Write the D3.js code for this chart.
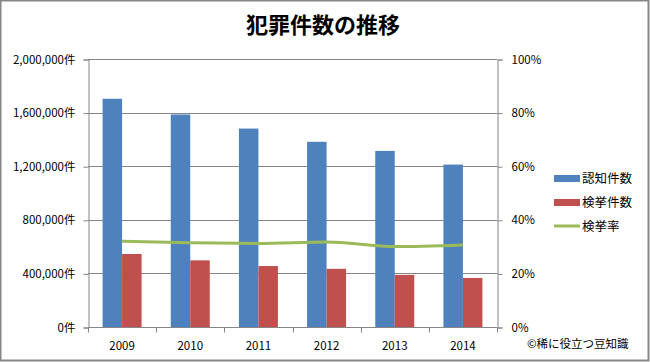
<!DOCTYPE html>
<html>
<head>
<meta charset="utf-8">
<script src="https://cdn.jsdelivr.net/npm/d3@7"></script>
<style>
  body { margin: 0; background: #fff; }
  text { font-family: "Noto Sans CJK JP", "DejaVu Sans", sans-serif; fill: #000; }
</style>
</head>
<body>
<div id="chart"></div>
<script>
var years = ["2009", "2010", "2011", "2012", "2013", "2014"];
var ninchi = [1703044, 1585856, 1480760, 1382154, 1314140, 1212163];
var kenkyo = [545016, 497356, 455000, 434000, 389000, 366000];
var rate = [0.320, 0.314, 0.312, 0.317, 0.300, 0.306];
var leftTicks = [0, 400000, 800000, 1200000, 1600000, 2000000];
var rightTicks = [0, 0.2, 0.4, 0.6, 0.8, 1.0];
var seriesNames = ["認知件数", "検挙件数", "検挙率"];
var colors = ["#4f81bd", "#c0504d", "#9bbb59"];

var W = 650, H = 362;
var plot = { left: 88, right: 497, top: 59, bottom: 327 };

var svg = d3.select("#chart").append("svg")
  .attr("width", W).attr("height", H);

// outer border
svg.append("rect")
  .attr("x", 0.5).attr("y", 0.5)
  .attr("width", W - 2).attr("height", H - 2)
  .attr("fill", "#fff").attr("stroke", "#868686").attr("stroke-width", 2);

svg.append("text")
  .attr("x", 323).attr("y", 33)
  .attr("text-anchor", "middle")
  .attr("font-size", 22).attr("font-weight", "bold")
  .text("犯罪件数の推移");

var x = d3.scaleBand().domain(years).range([plot.left, plot.right]);
var y = d3.scaleLinear().domain([0, 2000000]).range([plot.bottom, plot.top]);
var y2 = d3.scaleLinear().domain([0, 1]).range([plot.bottom, plot.top]);

// gridlines
svg.append("g").selectAll("line").data(leftTicks.slice(1)).join("line")
  .attr("x1", plot.left).attr("x2", plot.right)
  .attr("y1", d => Math.round(y(d)) + 0.5).attr("y2", d => Math.round(y(d)) + 0.5)
  .attr("stroke", "#868686");

// left axis
var fmt = d3.format(",");
var la = svg.append("g")
  .attr("transform", "translate(" + (plot.left + 0.5) + ",0.5)")
  .call(d3.axisLeft(y).tickValues(leftTicks).tickFormat(d => fmt(d) + "件").tickSize(5).tickPadding(8));
la.selectAll(".tick line, .domain").attr("stroke", "#868686");
la.selectAll("text").attr("font-size", 11.5).attr("fill", "#000");

// right axis
var ra = svg.append("g")
  .attr("transform", "translate(" + (plot.right + 0.5) + ",0.5)")
  .call(d3.axisRight(y2).tickValues(rightTicks).tickFormat(d3.format(".0%")).tickSize(5).tickPadding(9));
ra.selectAll(".tick line, .domain").attr("stroke", "#868686");
ra.selectAll("text").attr("font-size", 11.5).attr("fill", "#000");

// bars
var bw = 19.5;
svg.append("g").selectAll("rect").data(ninchi).join("rect")
  .attr("x", (d, i) => x(years[i]) + x.bandwidth() / 2 - bw)
  .attr("y", d => y(d))
  .attr("width", bw)
  .attr("height", d => plot.bottom - y(d))
  .attr("fill", colors[0]);
svg.append("g").selectAll("rect").data(kenkyo).join("rect")
  .attr("x", (d, i) => x(years[i]) + x.bandwidth() / 2)
  .attr("y", d => y(d))
  .attr("width", bw)
  .attr("height", d => plot.bottom - y(d))
  .attr("fill", colors[1]);

// x axis
var xa = svg.append("g")
  .attr("transform", "translate(0," + (plot.bottom + 0.5) + ")");
xa.append("line").attr("x1", plot.left).attr("x2", plot.right).attr("stroke", "#868686");
xa.selectAll(".tk").data(d3.range(years.length + 1)).join("line")
  .attr("x1", i => Math.round(plot.left + i * x.step()) + 0.5)
  .attr("x2", i => Math.round(plot.left + i * x.step()) + 0.5)
  .attr("y1", 0).attr("y2", 5)
  .attr("stroke", "#868686");
xa.selectAll("text").data(years).join("text")
  .attr("x", d => x(d) + x.bandwidth() / 2)
  .attr("y", 22)
  .attr("text-anchor", "middle")
  .attr("font-size", 11.5)
  .text(d => d);

// rate line
var line = d3.line()
  .x((d, i) => x(years[i]) + x.bandwidth() / 2)
  .y(d => y2(d))
  .curve(d3.curveMonotoneX);
svg.append("path").datum(rate)
  .attr("d", line)
  .attr("fill", "none")
  .attr("stroke", colors[2])
  .attr("stroke-width", 3);

// legend
var lg = svg.append("g");
[0, 1, 2].forEach(function (i) {
  var cy = 178 + i * 24;
  if (i < 2) {
    lg.append("rect").attr("x", 554).attr("y", cy - 3).attr("width", 26).attr("height", 7).attr("fill", colors[i]);
  } else {
    lg.append("line").attr("x1", 554).attr("x2", 580).attr("y1", cy).attr("y2", cy)
      .attr("stroke", colors[i]).attr("stroke-width", 3);
  }
  lg.append("text").attr("x", 582).attr("y", cy + 4.5).attr("font-size", 12.5).text(seriesNames[i]);
});

svg.append("text")
  .attr("x", 527).attr("y", 348)
  .attr("font-size", 11.5)
  .text("©稀に役立つ豆知識");
</script>
</body>
</html>
